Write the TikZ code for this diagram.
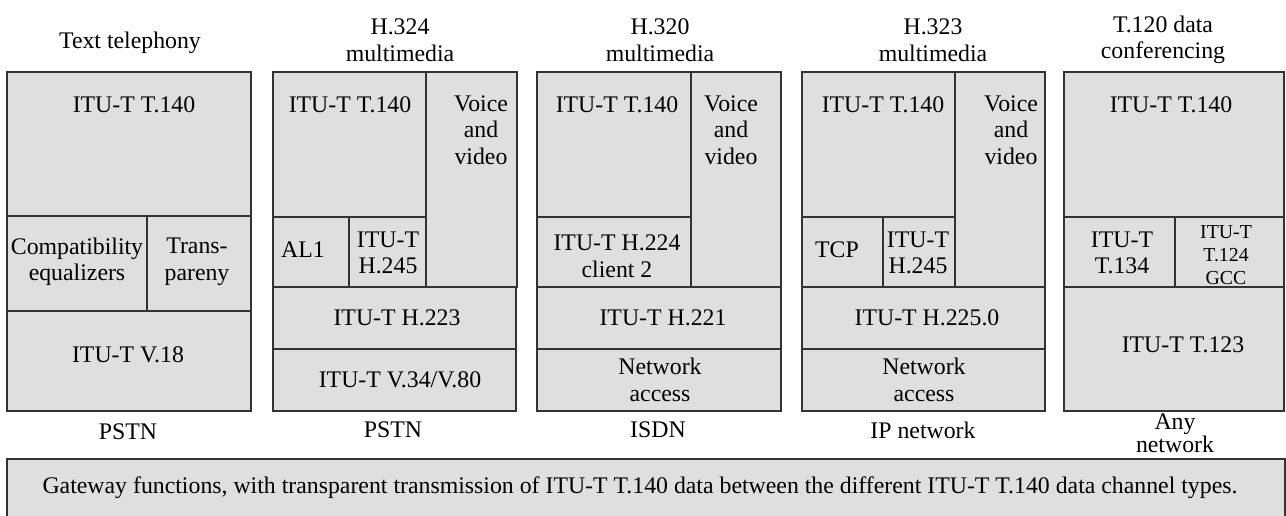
\documentclass[tikz,border=0pt]{standalone}
\usepackage{fontspec}
\setmainfont{Liberation Serif}
\begin{document}
\begin{tikzpicture}[x=1pt,y=-1pt,
  cell/.style={fill=black!12.5,draw=black!80,line width=1.3pt},
  lbl/.style={inner sep=0pt,align=center,font=\fontsize{23.8pt}{26.5pt}\selectfont},
  small/.style={inner sep=0pt,align=center,font=\fontsize{19.8pt}{23pt}\selectfont},
  tight/.style={inner sep=0pt,align=center,font=\fontsize{23.8pt}{20pt}\selectfont}]
\useasboundingbox (0,0) rectangle (1286,516);
% column 1
\path[cell] (7,72) rectangle (251,216);
\path[cell] (7,216) rectangle (147,311);
\path[cell] (147,216) rectangle (251,311);
\path[cell] (7,311) rectangle (251,411);
% column 2
\path[cell] (273,72) rectangle (426,217);
\path[cell] (426,72) rectangle (517,287);
\path[cell] (273,217) rectangle (349,287);
\path[cell] (349,217) rectangle (426,287);
\path[cell] (273,287) rectangle (516,349);
\path[cell] (273,349) rectangle (516,411);
% column 3
\path[cell] (537,72) rectangle (691,217);
\path[cell] (691,72) rectangle (781,287);
\path[cell] (537,217) rectangle (691,287);
\path[cell] (537,287) rectangle (781,349);
\path[cell] (537,349) rectangle (781,411);
% column 4
\path[cell] (802,72) rectangle (955,217);
\path[cell] (955,72) rectangle (1045,287);
\path[cell] (802,217) rectangle (883,287);
\path[cell] (883,217) rectangle (955,287);
\path[cell] (802,287) rectangle (1045,349);
\path[cell] (802,349) rectangle (1045,411);
% column 5
\path[cell] (1064,72) rectangle (1284,217);
\path[cell] (1064,217) rectangle (1175,287);
\path[cell] (1175,217) rectangle (1284,287);
\path[cell] (1064,287) rectangle (1284,411);
% gateway
\path[cell] (7,459) rectangle (1285,530);

% headers
\node[lbl] (h1) at (130,43) {Text telephony};
\node[lbl] (h2) at (400,40) {H.324\\multimedia};
\node[lbl] (h3) at (660,40) {H.320\\multimedia};
\node[lbl] (h4) at (933,40) {H.323\\multimedia};
\node[lbl] (h5) at (1163,40) {T.120 data\\conferencing};
% column 1 text
\node[lbl] (c1a) at (134,105) {ITU-T T.140};
\node[lbl] (c1b) at (77,262) {Compatibility\\equalizers};
\node[lbl] (c1c) at (197,262) {Trans-\\pareny};
\node[lbl] (c1d) at (128,355) {ITU-T V.18};
% column 2 text
\node[lbl] (c2a) at (350,105) {ITU-T T.140};
\node[lbl] (c2b) at (481,130) {Voice\\and\\video};
\node[lbl] (c2c) at (303,250) {AL1};
\node[lbl] (c2d) at (388,253) {ITU-T\\H.245};
\node[lbl] (c2e) at (397,318) {ITU-T H.223};
\node[lbl] (c2f) at (400,380) {ITU-T V.34/V.80};
% column 3 text
\node[lbl] (c3a) at (617,105) {ITU-T T.140};
\node[lbl] (c3b) at (731,130) {Voice\\and\\video};
\node[lbl] (c3c) at (617,256) {ITU-T H.224\\client 2};
\node[lbl] (c3d) at (663,318) {ITU-T H.221};
\node[lbl] (c3e) at (660,380) {Network\\access};
% column 4 text
\node[lbl] (c4a) at (883,105) {ITU-T T.140};
\node[lbl] (c4b) at (1011,130) {Voice\\and\\video};
\node[lbl] (c4c) at (837,250) {TCP};
\node[lbl] (c4d) at (918,253) {ITU-T\\H.245};
\node[lbl] (c4e) at (927,318) {ITU-T H.225.0};
\node[lbl] (c4f) at (924,380) {Network\\access};
% column 5 text
\node[lbl] (c5a) at (1171,105) {ITU-T T.140};
\node[lbl] (c5b) at (1122,253) {ITU-T\\T.134};
\node[small] (c5c) at (1226,255) {ITU-T\\T.124\\GCC};
\node[lbl] (c5d) at (1183,345) {ITU-T T.123};
% bottom labels
\node[lbl] (b1) at (128,432) {PSTN};
\node[lbl] (b2) at (393,430) {PSTN};
\node[lbl] (b3) at (658,430) {ISDN};
\node[lbl] (b4) at (923,430) {IP network};
\node[tight] (b5) at (1175,433) {Any\\network};
% gateway text
\node[lbl] (gw) at (640,488) {Gateway functions, with transparent transmission of ITU-T T.140 data between the different ITU-T T.140 data channel types.};
\end{tikzpicture}
\end{document}
